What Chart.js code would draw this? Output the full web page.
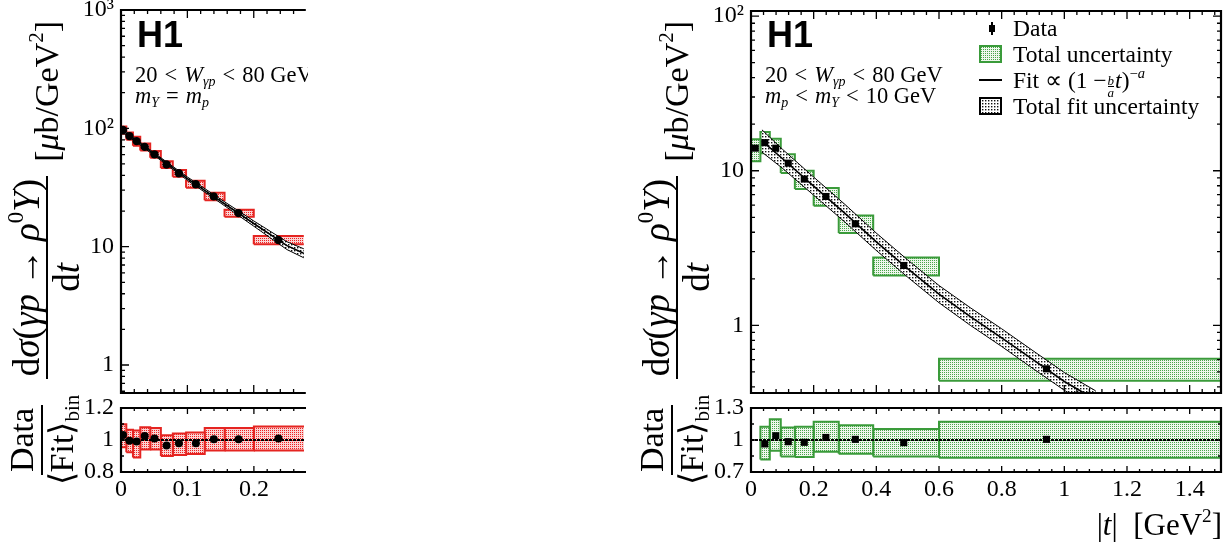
<!DOCTYPE html>
<html>
<head>
<meta charset="utf-8">
<script src="https://cdn.jsdelivr.net/npm/chart.js@4.4.0/dist/chart.umd.min.js"></script>
<style>
  html, body { margin: 0; padding: 0; background: #fff; }
  body { width: 1226px; height: 548px; position: relative; overflow: hidden; font-family: 'Liberation Serif', serif; color: #000; }
  canvas { position: absolute; }
  .clip { position: absolute; top: 0; height: 548px; overflow: hidden; }
  .ytitle { position: absolute; display: flex; align-items: center; justify-content: center;
            transform: rotate(-90deg); font-size: 34px; white-space: nowrap; }
  .frac { display: inline-flex; flex-direction: column; align-items: center; }
  .num { border-bottom: 2px solid #000; padding: 0 3px 1px; line-height: 36px; }
  .den { line-height: 36px; padding-top: 1px; }
  .big { font-size: 37px; }
  .unit { margin-left: 14px; }
  .rel { margin: 0 8px; }
  sup { font-size: 62%; vertical-align: 0.7em; line-height: 0; }
  sub { font-size: 62%; vertical-align: -0.3em; line-height: 0; }
  .h1 { position: absolute; font: bold 36px 'Liberation Sans', sans-serif; line-height: 36px; }
  .cond { position: absolute; font-size: 22.5px; line-height: 21px; white-space: nowrap; }
  .cond .rel { margin: 0 7px; }
  .leg { position: absolute; font-size: 23.5px; line-height: 26px; white-space: nowrap; }
  .icon { position: absolute; box-sizing: border-box; }
  .sfrac { display: inline-flex; flex-direction: column; align-items: center; font-size: 13px; line-height: 11px; vertical-align: 3px; font-style: italic; margin: 0 1px; }
  .sfrac span:first-child { border-bottom: 1px solid #000; }
  .xtitle { position: absolute; font-size: 31px; line-height: 34px; white-space: nowrap; }
</style>
</head>
<body>

<div class="clip" style="left:0;width:308px;">
  <canvas id="elMain" width="308" height="443" style="left:0;top:-20px"></canvas>
  <canvas id="elRatio" width="308" height="144" style="left:0;top:378px"></canvas>
  <div class="h1" style="left:137px;top:17px">H1</div>
  <div class="cond" style="left:135px;top:64px">20<span class="rel">&lt;</span><i>W</i><sub><i>γp</i></sub><span class="rel">&lt;</span>80 GeV<br><i>m</i><sub><i>Y</i></sub><span class="rel">=</span><i>m</i><sub><i>p</i></sub></div>
</div>
<div class="ytitle" style="left:-153px;top:150px;width:400px;height:100px">
  <span class="frac big"><span class="num">d<i>σ</i>(<i>γp</i><span class="rel">→</span><i>ρ</i><sup>0</sup><i>Y</i>)</span><span class="den">d<i>t</i></span></span>
  <span class="unit">[<i>μ</i>b/GeV<sup>2</sup>]</span>
</div>
<div class="ytitle" style="left:-23px;top:395px;width:130px;height:90px">
  <span class="frac"><span class="num">Data</span><span class="den">⟨Fit⟩<sub>bin</sub></span></span>
</div>

<canvas id="pdMain" width="596" height="443" style="left:630px;top:-20px"></canvas>
<canvas id="pdRatio" width="596" height="144" style="left:630px;top:378px"></canvas>
<div class="h1" style="left:767px;top:17px">H1</div>
<div class="cond" style="left:765px;top:64px">20<span class="rel">&lt;</span><i>W</i><sub><i>γp</i></sub><span class="rel">&lt;</span>80 GeV<br><i>m</i><sub><i>p</i></sub><span class="rel">&lt;</span><i>m</i><sub><i>Y</i></sub><span class="rel">&lt;</span>10 GeV</div>
<div class="ytitle" style="left:477px;top:150px;width:400px;height:100px">
  <span class="frac big"><span class="num">d<i>σ</i>(<i>γp</i><span class="rel">→</span><i>ρ</i><sup>0</sup><i>Y</i>)</span><span class="den">d<i>t</i></span></span>
  <span class="unit">[<i>μ</i>b/GeV<sup>2</sup>]</span>
</div>
<div class="ytitle" style="left:607px;top:395px;width:130px;height:90px">
  <span class="frac"><span class="num">Data</span><span class="den">⟨Fit⟩<sub>bin</sub></span></span>
</div>

<!-- legend -->
<div class="icon" style="left:991px;top:22px;width:2px;height:13px;background:#000"></div>
<div class="icon" style="left:989px;top:25px;width:6px;height:7px;background:#000"></div>
<div class="leg" style="left:1013px;top:15px">Data</div>
<canvas class="icon" id="legGreen" width="23" height="18" style="left:979px;top:45px"></canvas>
<div class="leg" style="left:1013px;top:41px">Total uncertainty</div>
<div class="icon" style="left:979px;top:79px;width:23px;height:2px;background:#000"></div>
<div class="leg" style="left:1013px;top:67px">Fit ∝ (1 −<span class="sfrac"><span>b</span><span>a</span></span><i>t</i>)<sup>−<i>a</i></sup></div>
<canvas class="icon" id="legBand" width="23" height="18" style="left:979px;top:97px"></canvas>
<div class="leg" style="left:1013px;top:93px">Total fit uncertainty</div>

<div class="xtitle" style="right:4px;top:508px">|<i>t</i>| &nbsp;[GeV<sup>2</sup>]</div>

<script>
// ---- elastic, m_Y = m_p (left) ----
const elEdges = [0, 0.008, 0.018, 0.029, 0.044, 0.06, 0.078, 0.098, 0.126, 0.156, 0.2, 0.3];
const elT = [0.003, 0.0127, 0.0235, 0.0357, 0.0504, 0.0686, 0.0872, 0.1127, 0.1397, 0.177, 0.237];
const elXsec = [96.9, 86, 78, 69.7, 60.3, 49.5, 41.7, 33.7, 26.6, 19.2, 11.4];
const elXsecLo = [90.1, 80.0, 71.3, 65.0, 56.3, 46.2, 38.9, 31.4, 24.7, 17.9, 10.5];
const elXsecHi = [103.7, 92.0, 84.7, 74.4, 64.3, 52.8, 44.5, 36.0, 28.5, 20.5, 12.3];
const elRatio = [1.031, 0.995, 0.99, 1.025, 1.01, 0.965, 0.98, 0.98, 1.005, 1.005, 1.01];
const elRatioLo = [0.955, 0.924, 0.89, 0.94, 0.94, 0.90, 0.907, 0.913, 0.934, 0.934, 0.934];
const elRatioHi = [1.099, 1.064, 1.06, 1.08, 1.075, 1.03, 1.04, 1.047, 1.075, 1.075, 1.084];
const elFitT = [0, 0.05, 0.1, 0.15, 0.2, 0.25, 0.3];
const elFit = [98, 60.5, 37.6, 24.3, 15.7, 10.2, 7.6];
const elFitLo = [95, 59, 36.4, 23.4, 14.9, 9.45, 6.9];
const elFitHi = [101, 62, 38.8, 25.2, 16.5, 11.0, 8.4];

// ---- proton dissociative, m_p < m_Y < 10 GeV (right) ----
const pdEdges = [0, 0.03, 0.06, 0.095, 0.14, 0.2, 0.28, 0.39, 0.6, 1.5];
const pdT = [0.0136, 0.044, 0.079, 0.119, 0.17, 0.239, 0.333, 0.4875, 0.943];
const pdXsec = [14.0, 15.2, 14.0, 11.2, 8.84, 6.82, 4.54, 2.44, 0.523];
const pdXsecLo = [11.5, 13.0, 12.3, 9.66, 7.62, 5.94, 3.95, 2.10, 0.438];
const pdXsecHi = [16.0, 17.8, 16.1, 12.8, 10.0, 7.73, 5.14, 2.75, 0.607];
// first bin is not part of the fit, ratio starts at bin 2
const pdRatio = [0.963, 1.04, 0.984, 0.978, 1.024, 1.006, 0.975, 1.006];
const pdRatioLo = [0.817, 0.90, 0.845, 0.84, 0.89, 0.87, 0.845, 0.833];
const pdRatioHi = [1.124, 1.195, 1.117, 1.124, 1.17, 1.139, 1.102, 1.17];
const pdFitT = [0.035, 0.1, 0.2, 0.3, 0.4, 0.5, 0.6, 0.7, 0.8, 0.9, 1.0, 1.1];
const pdFit = [15.6, 12.0, 7.96, 5.30, 3.47, 2.33, 1.59, 1.14, 0.83, 0.60, 0.433, 0.33];
const pdFitLo = [13.2, 10.4, 6.95, 4.65, 3.05, 2.05, 1.40, 1.0, 0.73, 0.525, 0.38, 0.29];
const pdFitHi = [18.4, 13.8, 9.1, 6.05, 3.95, 2.65, 1.81, 1.30, 0.95, 0.685, 0.495, 0.377];

// tick labels
const elYTicks = [1, 10, 100, 1000], elYLabels = ['1', '10', '10²', '10³'];
const pdYTicks = [1, 10, 100], pdYLabels = ['1', '10', '10²'];
const elRTicks = [0.8, 1, 1.2], elRLabels = ['0.8', '1', '1.2'];
const pdRTicks = [0.7, 1, 1.3], pdRLabels = ['0.7', '1', '1.3'];
const elXTicks = [0, 0.1, 0.2], elXLabels = ['0', '0.1', '0.2'];
const pdXTicks = [0, 0.2, 0.4, 0.6, 0.8, 1, 1.2, 1.4], pdXLabels = ['0', '0.2', '0.4', '0.6', '0.8', '1', '1.2', '1.4'];

const RED = '#e52421', GREEN = '#3a9b3a';
const FONT = {family: 'Liberation Serif', size: 24};

function dots(bg, fg, step, size){
  const c = document.createElement('canvas');
  c.width = c.height = step;
  const g = c.getContext('2d');
  g.fillStyle = bg; g.fillRect(0, 0, step, step);
  g.fillStyle = fg; g.fillRect(0, 0, size, size);
  return g.createPattern(c, 'repeat');
}
const redFill = dots('#fbd3d3', '#e22', 2, 1);
const greenFill = dots('#eef7ec', '#4aa54a', 2, 1);
const bandFill = dots('#ffffff', '#111', 3, 1.4);

// legend icons use the same fills
function legIcon(id, fill, border){
  const g = document.getElementById(id).getContext('2d');
  g.fillStyle = fill; g.fillRect(0, 0, 23, 18);
  g.strokeStyle = border; g.lineWidth = 2; g.strokeRect(1, 1, 21, 16);
}
legIcon('legGreen', greenFill, GREEN);
legIcon('legBand', bandFill, '#000');

const range = (a, b, s) => { const r = []; for (let v = a; v <= b + 1e-9; v += s) r.push(+v.toFixed(4)); return r; };
const logMinors = (lo, hi) => {
  const r = [];
  for (let e = -1; e <= 3; e++) for (let k = 2; k <= 9; k++){ const v = k * 10 ** e; if (v >= lo && v <= hi) r.push(v); }
  return r;
};

// frame with inward ticks on all sides (right side optional: left panel is cut off)
const framePlugin = {
  id: 'frame',
  afterDraw(chart, args, o){
    const {ctx, chartArea: a} = chart;
    const sx = chart.scales.x, sy = chart.scales.y;
    ctx.save();
    ctx.strokeStyle = '#000';
    ctx.lineWidth = 1.3;
    ctx.beginPath();
    const xt = (v, len) => {
      const p = sx.getPixelForValue(v);
      if (p < a.left - 0.5 || p > a.right + 0.5) return;
      ctx.moveTo(p, a.bottom); ctx.lineTo(p, a.bottom - len);
      ctx.moveTo(p, a.top); ctx.lineTo(p, a.top + len);
    };
    const yt = (v, len) => {
      const p = sy.getPixelForValue(v);
      if (p < a.top - 0.5 || p > a.bottom + 0.5) return;
      ctx.moveTo(a.left, p); ctx.lineTo(a.left + len, p);
      if (o.right){ ctx.moveTo(a.right, p); ctx.lineTo(a.right - len, p); }
    };
    o.xMajor.forEach(v => xt(v, o.majLen));
    o.xMinor.forEach(v => xt(v, o.minLen));
    o.yMajor.forEach(v => yt(v, o.majLen));
    o.yMinor.forEach(v => yt(v, o.minLen));
    ctx.stroke();
    ctx.lineWidth = 2.2;
    ctx.beginPath();
    if (o.right){
      ctx.rect(a.left, a.top, a.right - a.left, a.bottom - a.top);
    } else {
      ctx.moveTo(a.right + 2, a.top); ctx.lineTo(a.left, a.top);
      ctx.lineTo(a.left, a.bottom); ctx.lineTo(a.right + 2, a.bottom);
    }
    ctx.stroke();
    ctx.restore();
  }
};

function boxSets(edges, lo, hi, color, pattern){
  return lo.map((l, i) => ({
    data: [{x: edges[i], y: l}, {x: edges[i+1], y: l}, {x: edges[i+1], y: hi[i]}, {x: edges[i], y: hi[i]}, {x: edges[i], y: l}],
    borderColor: color, borderWidth: 2, borderJoinStyle: 'miter',
    backgroundColor: pattern, fill: 'shape', pointRadius: 0, tension: 0, order: 5
  }));
}
function pointSet(ts, vals, style, r){
  return {
    data: ts.map((t, i) => ({x: t, y: vals[i]})), showLine: false,
    pointStyle: style, pointRadius: r, pointBackgroundColor: '#000', pointBorderWidth: 0, order: 0
  };
}
function fitSets(ts, c, lo, hi){
  const xy = arr => ts.map((t, i) => ({x: t, y: arr[i]}));
  return [
    {data: xy(hi), borderColor: '#000', borderWidth: 1, pointRadius: 0, fill: false, order: 3},
    {data: xy(lo), borderColor: '#000', borderWidth: 1, pointRadius: 0, fill: '-1', backgroundColor: bandFill, order: 3},
    {data: xy(c), borderColor: '#000', borderWidth: 1.6, pointRadius: 0, fill: false, order: 2}
  ];
}
function unitLine(xmax){
  return {data: [{x: 0, y: 1}, {x: xmax, y: 1}], borderColor: '#000', borderWidth: 1.8, borderDash: [3, 1], pointRadius: 0, fill: false, order: 3};
}

function yAxis(type, min, max, vals, labels){
  return {
    type, min, max,
    grid: {display: false, drawTicks: false},
    border: {display: false},
    afterFit: s => { s.width = 121; },
    afterBuildTicks: s => { s.ticks = vals.map(v => ({value: v})); },
    ticks: {autoSkip: false, padding: 7, color: '#000', font: FONT,
            callback: v => labels[vals.indexOf(v)] ?? ''}
  };
}
function xAxis(max, vals, labels){
  if (!vals) return {type: 'linear', min: 0, max, display: false};
  return {
    type: 'linear', min: 0, max,
    grid: {display: false, drawTicks: false},
    border: {display: false},
    afterFit: s => { s.height = 40; },
    afterBuildTicks: s => { s.ticks = vals.map(v => ({value: v})); },
    ticks: {autoSkip: false, maxRotation: 0, padding: 3, color: '#000', font: FONT,
            callback: v => labels[vals.indexOf(v)] ?? ''}
  };
}

function panel(id, datasets, scales, frame, padding){
  return new Chart(document.getElementById(id), {
    type: 'line',
    data: {datasets},
    options: {
      responsive: false, animation: false, events: [],
      layout: {padding},
      scales,
      plugins: {legend: {display: false}, tooltip: {enabled: false}, frame}
    },
    plugins: [framePlugin]
  });
}

const EL_XMAX = 0.2754, PD_XMAX = 1.5;
const elFrameX = {xMajor: elXTicks, xMinor: range(0, 0.28, 0.02)};
const pdFrameX = {xMajor: pdXTicks, xMinor: range(0, 1.5, 0.04)};

panel('elMain',
  [...boxSets(elEdges, elXsecLo, elXsecHi, RED, redFill), ...fitSets(elFitT, elFit, elFitLo, elFitHi), pointSet(elT, elXsec, 'circle', 4.2)],
  {x: xAxis(EL_XMAX), y: yAxis('logarithmic', 0.58, 1000, elYTicks, elYLabels)},
  {right: false, ...elFrameX, yMajor: elYTicks, yMinor: logMinors(0.58, 1000), majLen: 8, minLen: 4},
  {top: 30, bottom: 30, left: 0, right: 0});

panel('elRatio',
  [...boxSets(elEdges, elRatioLo, elRatioHi, RED, redFill), unitLine(EL_XMAX), pointSet(elT, elRatio, 'circle', 4)],
  {x: xAxis(EL_XMAX, elXTicks, elXLabels), y: yAxis('linear', 0.8, 1.2, elRTicks, elRLabels)},
  {right: false, ...elFrameX, yMajor: elRTicks, yMinor: [0.9, 1.1], majLen: 6, minLen: 3},
  {top: 30, bottom: 10, left: 0, right: 0});

panel('pdMain',
  [...boxSets(pdEdges, pdXsecLo, pdXsecHi, GREEN, greenFill), ...fitSets(pdFitT, pdFit, pdFitLo, pdFitHi), pointSet(pdT, pdXsec, 'rect', 5)],
  {x: xAxis(PD_XMAX), y: yAxis('logarithmic', 0.365, 108, pdYTicks, pdYLabels)},
  {right: true, ...pdFrameX, yMajor: pdYTicks, yMinor: logMinors(0.365, 108), majLen: 8, minLen: 4},
  {top: 31, bottom: 30, left: 0, right: 1});

panel('pdRatio',
  [...boxSets(pdEdges.slice(1), pdRatioLo, pdRatioHi, GREEN, greenFill), unitLine(PD_XMAX), pointSet(pdT.slice(1), pdRatio, 'rect', 5)],
  {x: xAxis(PD_XMAX, pdXTicks, pdXLabels), y: yAxis('linear', 0.7, 1.3, pdRTicks, pdRLabels)},
  {right: true, ...pdFrameX, yMajor: pdRTicks, yMinor: [0.85, 1.15], majLen: 6, minLen: 3},
  {top: 30, bottom: 10, left: 0, right: 1});
</script>
</body>
</html>
